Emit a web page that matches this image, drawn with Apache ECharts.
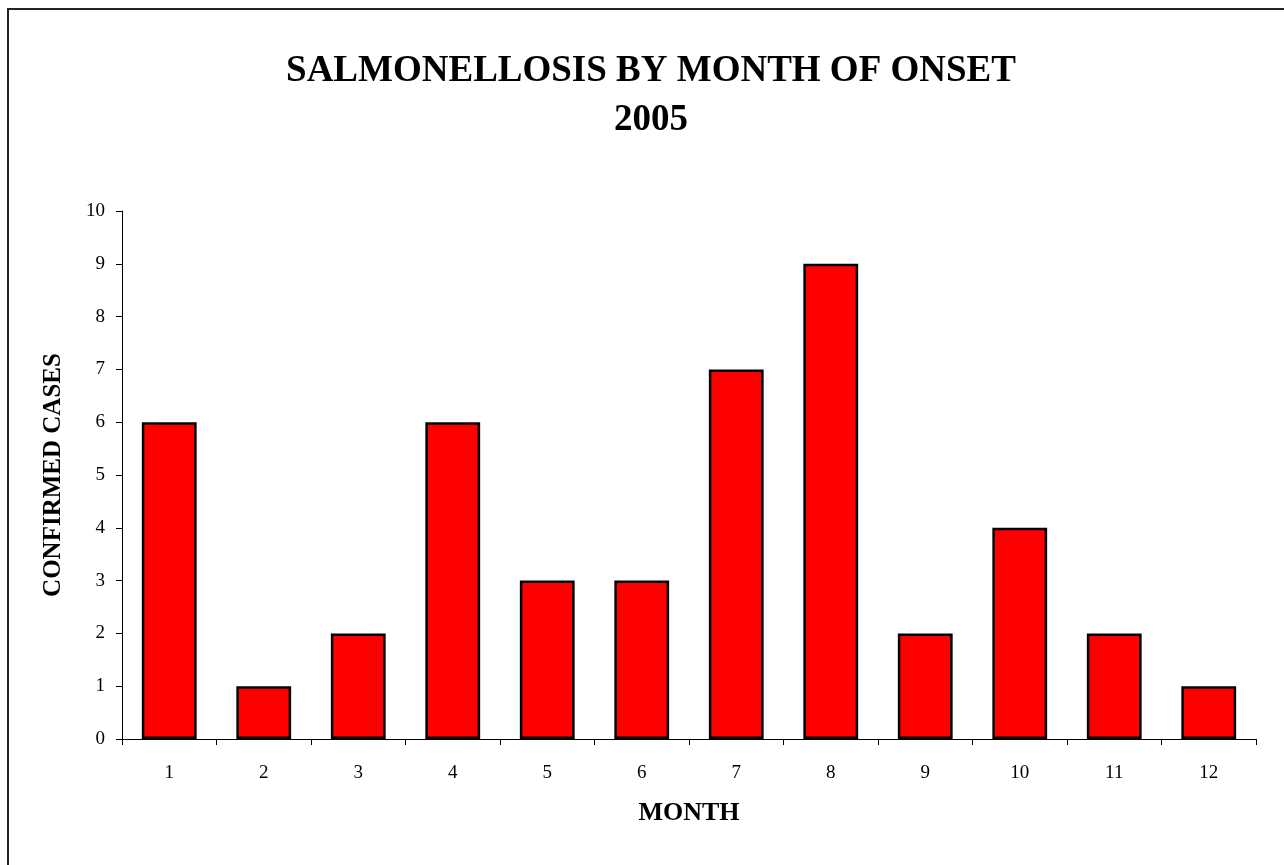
<!DOCTYPE html>
<html>
<head>
<meta charset="utf-8">
<script src="https://cdn.jsdelivr.net/npm/echarts@6/dist/echarts.min.js"></script>
<style>
  html, body { margin: 0; padding: 0; background: #fff; overflow: hidden; }
  #frame { position: absolute; left: 7px; top: 8px; width: 1400px; height: 1000px; border: 2px solid #222; box-sizing: border-box; }
  #chart { position: absolute; left: 0; top: 0; width: 1284px; height: 865px; }
</style>
</head>
<body>
<div id="frame"></div>
<div id="chart"></div>
<script>
  // 月份与确诊病例数
  const months = ['1', '2', '3', '4', '5', '6', '7', '8', '9', '10', '11', '12'];
  const cases = [6, 1, 2, 6, 3, 3, 7, 9, 2, 4, 2, 1];
  const yTicks = { min: 0, max: 10, interval: 1 };

  const serif = '"Liberation Serif", "Times New Roman", serif';

  const chart = echarts.init(document.getElementById('chart'));
  const option = {
    animation: false,
    title: {
      text: 'SALMONELLOSIS BY MONTH OF ONSET\n2005',
      left: 646,
      top: 42,
      textAlign: 'center',
      textStyle: {
        fontFamily: serif,
        fontWeight: 'bold',
        fontSize: 37,
        lineHeight: 49,
        color: '#000'
      }
    },
    grid: { left: 122, top: 211, right: 28, bottom: 126 },
    xAxis: {
      type: 'category',
      data: months,
      name: 'MONTH',
      nameLocation: 'middle',
      nameGap: 61,
      nameTextStyle: { fontFamily: serif, fontWeight: 'bold', fontSize: 26, color: '#000' },
      axisLine: { lineStyle: { color: '#000', width: 1 } },
      axisTick: { show: true, length: 6, lineStyle: { color: '#000' } },
      axisLabel: { fontFamily: serif, fontSize: 19, color: '#000', margin: 25 }
    },
    yAxis: {
      type: 'value',
      min: yTicks.min,
      max: yTicks.max,
      interval: yTicks.interval,
      name: 'CONFIRMED CASES',
      nameLocation: 'middle',
      nameGap: 56,
      nameTextStyle: { fontFamily: serif, fontWeight: 'bold', fontSize: 25, color: '#000' },
      axisLine: { show: true, lineStyle: { color: '#000', width: 1 } },
      axisTick: { show: true, length: 6, lineStyle: { color: '#000' } },
      axisLabel: { fontFamily: serif, fontSize: 19, color: '#000', margin: 17 },
      splitLine: { show: false }
    },
    series: [{
      type: 'bar',
      data: cases,
      barWidth: '58%',
      itemStyle: { color: '#ff0000', borderColor: '#000', borderWidth: 2.5 }
    }]
  };
  chart.setOption(option);
</script>
</body>
</html>
